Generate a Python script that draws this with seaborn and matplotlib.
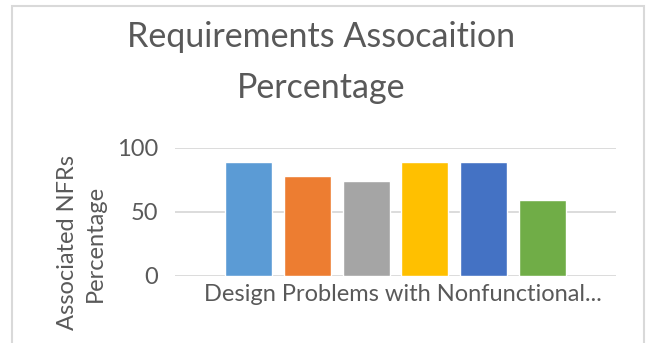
import matplotlib
matplotlib.use("Agg")
import matplotlib.pyplot as plt
import matplotlib.transforms as mtransforms
from matplotlib.patches import Rectangle
import pandas as pd
import seaborn as sns

# Chart data
category = ["Design Problems with Nonfunctional..."]
series = ["Series 1", "Series 2", "Series 3", "Series 4", "Series 5", "Series 6"]
values = [89, 78, 74, 89, 89, 59]
colors = ["#5B9BD5", "#ED7D31", "#A5A5A5", "#FFC000", "#4472C4", "#70AD47"]
yticks = [0, 50, 100]
title = "Requirements Assocaition\nPercentage"
ylabel = "Associated NFRs\nPercentage"

TEXT = "#595959"
GRID = "#D9D9D9"

sns.set_theme(style="white")
plt.rcParams["font.family"] = ["Lato", "DejaVu Sans"]

df = pd.DataFrame({
    "category": category * len(series),
    "series": series,
    "value": values,
})

W, H = 653, 343
fig = plt.figure(figsize=(W / 100, H / 100), dpi=100)
fig.patch.set_facecolor("white")

# chart frame (runs past the bottom edge)
fig.patches.append(Rectangle((12 / W, -0.2), (644 - 12) / W, (H - 6) / H + 0.2,
                             transform=fig.transFigure, fill=False,
                             edgecolor=GRID, linewidth=1.5))

ax = fig.add_axes([175 / W, (H - 276) / H, (616 - 175) / W, (276 - 148) / H])
sns.barplot(data=df, x="category", y="value", hue="series", palette=colors,
            saturation=1, width=0.8, gap=0.2, legend=False, ax=ax)

ax.set_xlim(-0.5, 0.5)
ax.set_ylim(0, 100)
ax.set_yticks(yticks)
ax.set_axisbelow(True)
ax.yaxis.grid(True, color=GRID, linewidth=1.3)
ax.xaxis.grid(False)
for s in ax.spines.values():
    s.set_visible(False)
ax.set_facecolor("none")

FS = 17
ax.tick_params(axis="both", length=0, labelcolor=TEXT, labelsize=FS)
ax.tick_params(axis="x", pad=6)
ax.tick_params(axis="y", pad=12)
ax.set_xlabel("")
for lbl in ax.get_xticklabels():
    lbl.set_transform(lbl.get_transform() +
                      mtransforms.ScaledTranslation(7 / 100, 0, fig.dpi_scale_trans))

ax.set_ylabel(ylabel, color=TEXT, fontsize=FS, linespacing=1.4)
ax.yaxis.set_label_coords((106 - 175) / 441, (276 - 243) / 128)

fig.text(321 / W, 1 - 21 / H, title, ha="center", va="top", color=TEXT,
         fontsize=24.5, linespacing=1.75)

fig.savefig("out.png", dpi=100, facecolor="white")
